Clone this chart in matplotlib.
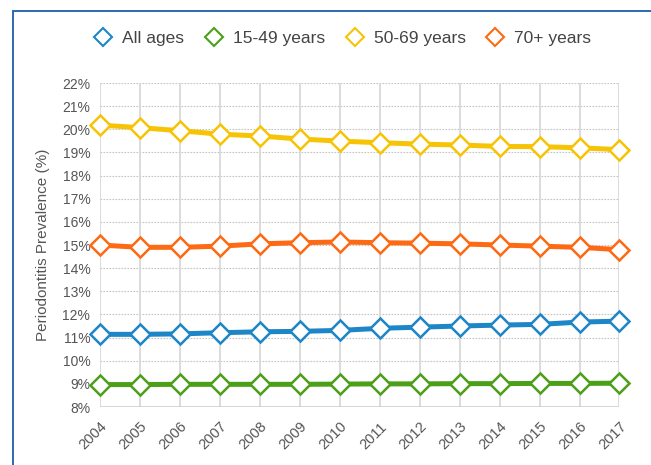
import matplotlib
matplotlib.use("Agg")
from matplotlib import pyplot as plt
from matplotlib.lines import Line2D
from matplotlib.patches import Rectangle
from matplotlib.ticker import FuncFormatter

plt.rcParams['font.family'] = ['Liberation Sans', 'DejaVu Sans']

years = list(range(2004, 2018))
all_ages = [11.14, 11.14, 11.16, 11.21, 11.25, 11.27, 11.31, 11.40, 11.45, 11.50, 11.54, 11.57, 11.67, 11.71]
age_15_49 = [8.97, 8.97, 8.98, 8.98, 8.98, 8.98, 8.99, 9.00, 9.00, 9.01, 9.01, 9.02, 9.02, 9.03]
age_50_69 = [20.18, 20.07, 19.94, 19.79, 19.71, 19.58, 19.49, 19.42, 19.36, 19.32, 19.26, 19.25, 19.20, 19.12]
age_70_plus = [15.00, 14.90, 14.90, 14.95, 15.05, 15.10, 15.13, 15.10, 15.08, 15.05, 15.00, 14.95, 14.90, 14.80]

series_names = ['All ages', '15-49 years', '50-69 years', '70+ years']
series_values = [all_ages, age_15_49, age_50_69, age_70_plus]
colors = ['#1c86c6', '#4ca019', '#f7c305', '#fd6a13']

fig = plt.figure(figsize=(6.51, 4.65), dpi=100)
ax = fig.add_axes([0.1536, 0.1247, 0.798, 0.6968])

for vals, c in zip(series_values, colors):
    ax.plot(years, vals, color=c, linewidth=3.6, solid_capstyle='butt', zorder=3)
    ax.plot(years, vals, linestyle='none', marker='D', markersize=10.5,
            markerfacecolor='white', markeredgecolor=c, markeredgewidth=1.8,
            clip_on=False, zorder=4)

ax.set_xlim(2004, 2017)
ax.set_ylim(8, 22)
ax.set_xticks(years)
ax.set_yticks(range(8, 23))
ax.yaxis.set_major_formatter(FuncFormatter(lambda v, p: f"{int(v)}%"))

for y in range(9, 23):
    ax.axhline(y, color='#c4c4c4', linewidth=0.8, linestyle=(0, (1.5, 1.2)), zorder=1)
for x in years:
    ax.axvline(x, color='#d6d6d6', linewidth=1.2, zorder=1)
ax.axhline(8, color='#d0d0d0', linewidth=1.2, zorder=1)

for s in ax.spines.values():
    s.set_visible(False)
ax.tick_params(axis='y', length=0, colors='#555555', labelsize=10, pad=7)
ax.tick_params(axis='x', length=0, colors='#555555', labelsize=10.5, pad=9)
for lab in ax.get_xticklabels():
    lab.set_rotation(45)
    lab.set_ha('right')
    lab.set_rotation_mode('anchor')

ax.set_ylabel('Periodontitis Prevalence (%)', color='#555555', fontsize=11, labelpad=9)

handles = [Line2D([], [], linestyle='none', marker='D', markersize=9,
                  markerfacecolor='white', markeredgecolor=c, markeredgewidth=1.5)
           for c in colors]
fig.legend(handles, series_names, loc='center', bbox_to_anchor=(0.527, 0.918), ncol=4,
           frameon=False, fontsize=12.5, handlelength=1.0, handletextpad=0.6,
           columnspacing=1.2, labelcolor='#444444')

fig.patches.append(Rectangle((13 / 651, -0.1), 1.2, 1 - 11 / 465 + 0.1, transform=fig.transFigure,
                             fill=False, edgecolor='#1a5fa8', linewidth=1.3))

fig.savefig('out.png', dpi=100)
